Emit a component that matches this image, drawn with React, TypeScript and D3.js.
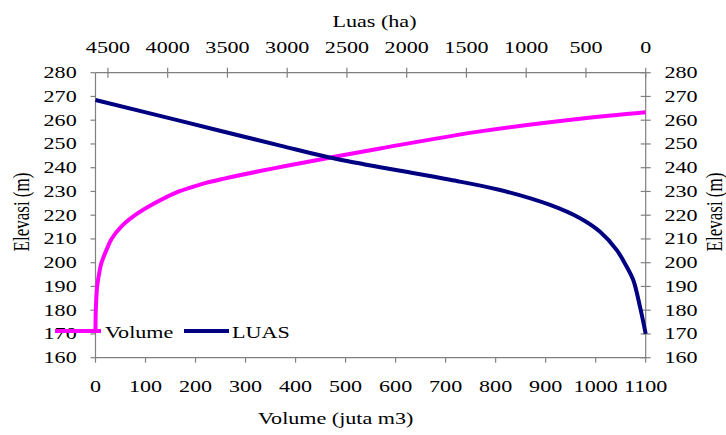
import React from "react";
import * as d3 from "d3";

const volumeValues = [0, 0.6, 3.3, 8.6, 12, 22, 32, 52, 79, 118, 167, 209, 255, 329, 380, 465, 569, 769, 969, 1100];
const volumeElev = [171, 180, 190, 197, 200, 205.4, 210, 215.3, 220, 225, 230, 232.9, 235.3, 238.6, 240.7, 244.1, 248.1, 255.3, 260.6, 263.3];

const luasValues = [4604, 3894, 3058, 2654, 2222, 2054, 1636, 1218, 800, 549, 382, 242, 159, 104, 48, 0];
const luasElev = [268.5, 259.7, 249.3, 244.4, 240.2, 238.7, 234.9, 230.6, 224.3, 218.7, 213, 205.3, 198.3, 192.7, 181.5, 170];

const elevTicks = [160, 170, 180, 190, 200, 210, 220, 230, 240, 250, 260, 270, 280];
const volumeTicks = [0, 100, 200, 300, 400, 500, 600, 700, 800, 900, 1000, 1100];
const luasTicks = [4500, 4000, 3500, 3000, 2500, 2000, 1500, 1000, 500, 0];

const seriesNames = ["Volume", "LUAS"];
const MAGENTA = "#ff00ff";
const NAVY = "#000080";
const AXIS = "#808080";
const FONT = "Liberation Serif, Times New Roman, serif";
const SX = 1.3;

export default function App() {
  const W = 726, H = 435;
  const L = 95.5, R = 645.7, T = 72.7, B = 357.7;
  const x = d3.scaleLinear().domain([0, 1100]).range([L, R]);
  const xTop = d3.scaleLinear().domain([4604, 0]).range([L, R]);
  const y = d3.scaleLinear().domain([160, 280]).range([B, T]);

  const volLine = d3.line<number>().x((d) => x(volumeValues[d])).y((d) => y(volumeElev[d])).curve(d3.curveCatmullRom.alpha(0.5));
  const luasLine = d3.line<number>().x((d) => xTop(luasValues[d])).y((d) => y(luasElev[d])).curve(d3.curveCatmullRom.alpha(0.5));

  const txt = (tx: number, ty: number, s: string, anchor: string, key?: any, size = 17) => (
    <text key={key} transform={`translate(${tx},${ty}) scale(${SX},1)`} textAnchor={anchor} fontSize={size} fontFamily={FONT} fill="#000">{s}</text>
  );

  return (
    <svg width={W} height={H} style={{ position: "absolute", left: 0, top: 0, background: "#fff" }}>
      <rect width={W} height={H} fill="#fff" />
      <line x1={L} x2={R} y1={B} y2={B} stroke={AXIS} strokeWidth={1.2} />
      <line x1={L} x2={R} y1={T} y2={T} stroke={AXIS} strokeWidth={1.2} />
      <line x1={L} x2={L} y1={T} y2={B} stroke={AXIS} strokeWidth={1.2} />
      <line x1={R} x2={R} y1={T} y2={B} stroke={AXIS} strokeWidth={1.2} />
      {elevTicks.map((t) => (
        <g key={"l" + t}>
          <line x1={L - 5} x2={L} y1={y(t)} y2={y(t)} stroke={AXIS} strokeWidth={1.2} />
          {txt(76.7, y(t) + 5.5, String(t), "end")}
        </g>
      ))}
      {elevTicks.map((t) => (
        <g key={"r" + t}>
          <line x1={R - 5} x2={R + 5} y1={y(t)} y2={y(t)} stroke={AXIS} strokeWidth={1.2} />
          {txt(664.5, y(t) + 5.5, String(t), "start")}
        </g>
      ))}
      {volumeTicks.map((t) => (
        <g key={"b" + t}>
          <line x1={x(t)} x2={x(t)} y1={B} y2={B + 5} stroke={AXIS} strokeWidth={1.2} />
          {txt(x(t), 392, String(t), "middle")}
        </g>
      ))}
      {luasTicks.map((t) => (
        <g key={"t" + t}>
          <line x1={xTop(t)} x2={xTop(t)} y1={T - 5} y2={T + 5} stroke={AXIS} strokeWidth={1.2} />
          {txt(xTop(t), 53, String(t), "middle")}
        </g>
      ))}
      <path d={volLine(d3.range(volumeValues.length)) || ""} fill="none" stroke={MAGENTA} strokeWidth={4} strokeLinejoin="round" />
      <path d={luasLine(d3.range(luasValues.length)) || ""} fill="none" stroke={NAVY} strokeWidth={4} strokeLinejoin="round" />
      {txt(374.5, 27, "Luas (ha)", "middle")}
      {txt(335.7, 424, "Volume (juta m3)", "middle")}
      <text transform={`translate(29,212) scale(${SX},1) rotate(-90)`} textAnchor="middle" fontSize={17} fontFamily={FONT}>Elevasi (m)</text>
      <text transform={`translate(722,212) scale(${SX},1) rotate(-90)`} textAnchor="middle" fontSize={17} fontFamily={FONT}>Elevasi (m)</text>
      <line x1={55} x2={101} y1={331} y2={331} stroke={MAGENTA} strokeWidth={4} />
      {txt(105, 338, seriesNames[0], "start")}
      <line x1={184} x2={229} y1={331} y2={331} stroke={NAVY} strokeWidth={4} />
      {txt(232, 338, seriesNames[1], "start")}
    </svg>
  );
}
